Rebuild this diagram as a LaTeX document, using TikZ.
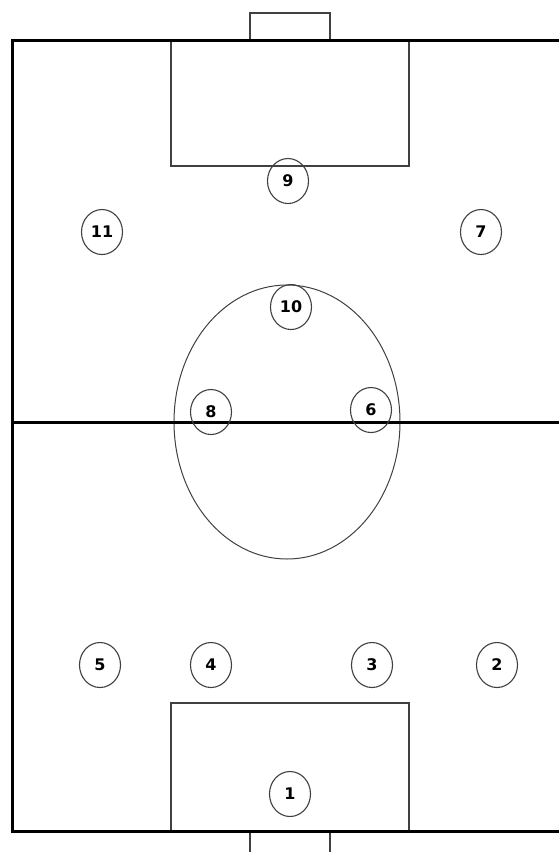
\documentclass[tikz,border=0pt]{standalone}
\usepackage{fontspec}
\setmainfont{DejaVu Sans}
\usetikzlibrary{shapes.geometric}
\definecolor{linegray}{HTML}{404040}
\tikzset{
  outerline/.style={draw=black, line width=3pt},
  thinline/.style={draw=linegray, line width=1.5pt},
  circleline/.style={draw=linegray, line width=1pt},
  player/.style={ellipse, draw=linegray, line width=1.1pt, minimum width=41pt, minimum height=45pt, inner sep=0pt, font=\bfseries\fontsize{16}{16}\selectfont}
}
\begin{document}
\begin{tikzpicture}[x=1pt,y=-1pt]
\useasboundingbox (0,0) rectangle (559,852);
% goals
\draw[thinline] (250,40) -- (250,13) -- (330,13) -- (330,40);
\draw[thinline] (250,831) -- (250,860) (330,831) -- (330,860);
% penalty boxes
\draw[thinline] (171,40) -- (171,166) -- (409,166) -- (409,40);
\draw[thinline] (171,831) -- (171,703) -- (409,703) -- (409,831);
% centre circle
\draw[circleline] (287,422) ellipse [x radius=113, y radius=137];
% outer lines
\draw[outerline] (565,40) -- (12,40) -- (12,831) -- (565,831);
\draw[outerline] (12,422) -- (565,422);
% players
\node[player] (p9) at (288,181) {9};
\node[player] (p11) at (102,232) {11};
\node[player] (p7) at (481,232) {7};
\node[player] (p10) at (291,307) {10};
\node[player] (p8) at (211,412) {8};
\node[player] (p6) at (371,410) {6};
\node[player] (p5) at (100,665) {5};
\node[player] (p4) at (211,665) {4};
\node[player] (p3) at (372,665) {3};
\node[player] (p2) at (497,665) {2};
\node[player] (p1) at (290,794) {1};
\end{tikzpicture}
\end{document}
